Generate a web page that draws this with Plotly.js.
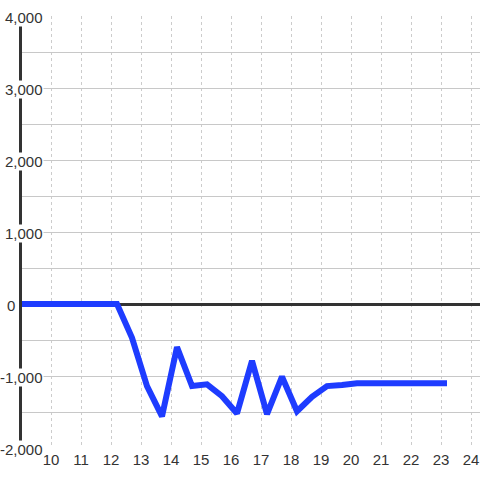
<!DOCTYPE html>
<html>
<head>
<meta charset="utf-8">
<script src="https://cdn.plot.ly/plotly-3.0.1.min.js"></script>
<style>html,body{margin:0;padding:0;background:#fff;}#chart{width:480px;height:480px;}</style>
</head>
<body>
<div id="chart"></div>
<script>
var xValues = [8.7, 9.2, 9.7, 10.2, 10.7, 11.2, 11.7, 12.2, 12.7, 13.2, 13.7, 14.2, 14.7, 15.2, 15.7, 16.2, 16.7, 17.2, 17.7, 18.2, 18.7, 19.2, 19.7, 20.2, 20.7, 21.2, 21.7, 22.2, 22.7, 23.2];
var yValues = [0, 0, 0, 0, 0, 0, 0, 0, -470, -1140, -1560, -600, -1140, -1115, -1280, -1520, -790, -1530, -1010, -1490, -1290, -1140, -1125, -1100, -1100, -1100, -1100, -1100, -1100, -1100];
var xTicks = [10, 11, 12, 13, 14, 15, 16, 17, 18, 19, 20, 21, 22, 23, 24];
var yTickValues = [4000, 3000, 2000, 1000, 0, -1000, -2000];
var yTickLabels = ["4,000", "3,000", "2,000", "1,000", "0", "-1,000", "-2,000"];

var fontFam = '"Liberation Sans", Arial, sans-serif';
var annotations = yTickValues.map(function (v, i) {
  var isZero = v === 0;
  return {
    xref: 'paper', yref: 'y', x: 0, y: v,
    xanchor: 'right', yanchor: 'middle',
    xshift: isZero ? -6 : 22,
    yshift: -1,
    text: yTickLabels[i], showarrow: false,
    bgcolor: isZero ? 'rgba(0,0,0,0)' : '#ffffff',
    borderpad: 0,
    font: {family: fontFam, size: 15, color: '#333333'}
  };
});

var trace = {
  x: xValues, y: yValues, type: 'scatter', mode: 'lines',
  line: {color: '#1e3cff', width: 6},
  hoverinfo: 'skip'
};

var layout = {
  width: 480, height: 480,
  margin: {l: 22, r: 0, t: 16, b: 32, pad: 0},
  paper_bgcolor: '#ffffff', plot_bgcolor: '#ffffff',
  showlegend: false,
  xaxis: {
    range: [9.0333, 24.3], tickvals: xTicks, ticktext: xTicks.map(String),
    showgrid: true, gridcolor: '#cccccc', gridwidth: 1, griddash: 'dot',
    zeroline: false, showline: false, ticks: '',
    tickfont: {family: fontFam, size: 15, color: '#333333'},
    ticklabelstandoff: 1
  },
  yaxis: {
    range: [-2000, 4000], dtick: 500, tick0: 0,
    showgrid: true, gridcolor: '#c8c8c8', gridwidth: 1,
    zeroline: true, zerolinecolor: '#333333', zerolinewidth: 3,
    showline: true, linecolor: '#333333', linewidth: 3,
    showticklabels: false, ticks: ''
  },
  annotations: annotations
};

Plotly.newPlot('chart', [trace], layout, {staticPlot: true, displayModeBar: false});
</script>
</body>
</html>
